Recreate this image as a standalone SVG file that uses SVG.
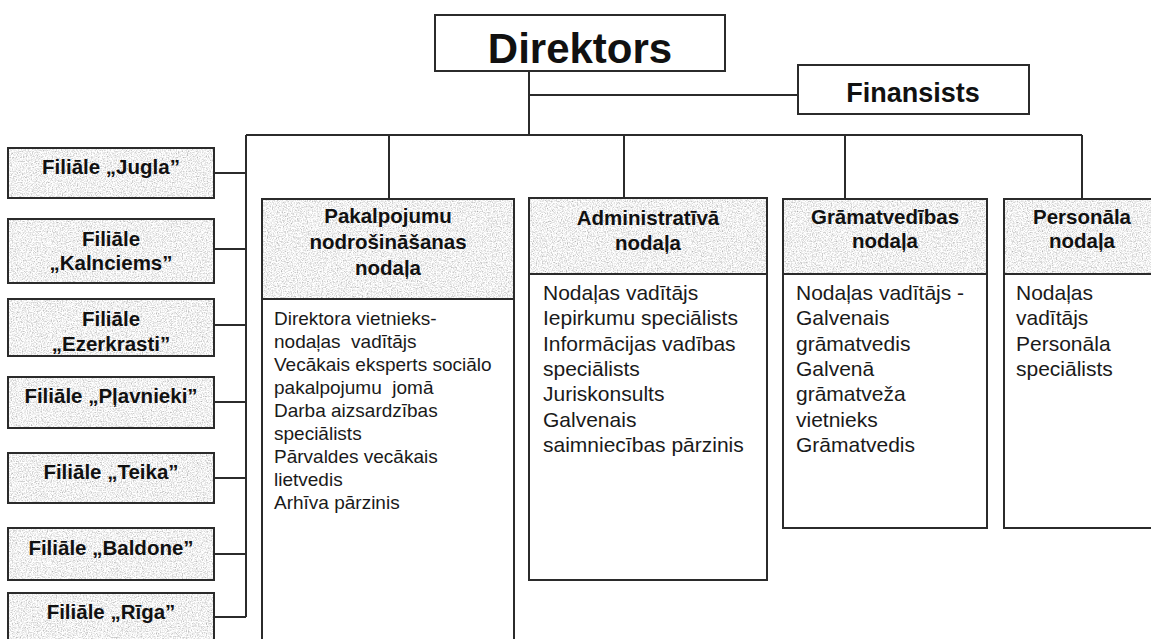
<svg xmlns="http://www.w3.org/2000/svg" width="1151" height="639" viewBox="0 0 1151 639">
<style>
.box{fill:none;stroke:#2b2b2b;stroke-width:2}
.wbox{fill:#ffffff;stroke:#2b2b2b;stroke-width:2}
.tex{fill:#000}
.conn{fill:none;stroke:#2b2b2b;stroke-width:2}
.h{font-family:"Liberation Sans",Arial,sans-serif;font-weight:bold;font-size:20.5px;fill:#111;text-anchor:middle}
.b{font-family:"Liberation Sans",Arial,sans-serif;font-size:21px;fill:#1a1a1a}
.b19{font-family:"Liberation Sans",Arial,sans-serif;font-size:19px;fill:#1a1a1a}
</style>
<defs>
<filter id="granite" x="0" y="0" width="1" height="1">
<feTurbulence type="fractalNoise" baseFrequency="0.8" numOctaves="3" seed="5"/>
<feColorMatrix type="matrix" values="1.1 0 0 0 0.33  1.1 0 0 0 0.33  1.1 0 0 0 0.33  0 0 0 0 1"/>
</filter>
</defs>
<rect x="0" y="0" width="1151" height="639" fill="#ffffff"/>

<g id="connectors">
<path class="conn" d="M529,71 V135 M529,95 H798 M246,135 H1082 M389,135 V199 M624,135 V198 M845,135 V199 M1082,135 V199 M246,135 V617"/>
<path class="conn" d="M214,173 H246 M214,249 H246 M214,325 H246 M214,402 H246 M214,478 H246 M214,554 H246 M214,617 H246"/>
</g>

<g id="direktors">
<rect class="wbox" x="435" y="15" width="290" height="56"/>
<text x="580" y="63" style="font-family:'Liberation Sans',Arial,sans-serif;font-weight:bold;font-size:42px;fill:#111;text-anchor:middle">Direktors</text>
</g>
<g id="finansists">
<rect class="wbox" x="798" y="65" width="231" height="49"/>
<text x="913" y="102" style="font-family:'Liberation Sans',Arial,sans-serif;font-weight:bold;font-size:27px;fill:#111;text-anchor:middle">Finansists</text>
</g>

<g id="filiale-jugla">
<rect class="tex" filter="url(#granite)" x="8" y="148" width="206" height="50"/>
<rect class="box" x="8" y="148" width="206" height="50"/>
<text class="h" x="111" y="174">Filiāle „Jugla”</text>
</g>
<g id="filiale-kalnciems">
<rect class="tex" filter="url(#granite)" x="8" y="219" width="206" height="64"/>
<rect class="box" x="8" y="219" width="206" height="64"/>
<text class="h" x="111" y="246">Filiāle</text>
<text class="h" x="111" y="270">„Kalnciems”</text>
</g>
<g id="filiale-ezerkrasti">
<rect class="tex" filter="url(#granite)" x="8" y="299" width="206" height="57"/>
<rect class="box" x="8" y="299" width="206" height="57"/>
<text class="h" x="111" y="326">Filiāle</text>
<text class="h" x="111" y="351">„Ezerkrasti”</text>
</g>
<g id="filiale-plavnieki">
<rect class="tex" filter="url(#granite)" x="8" y="377" width="206" height="51"/>
<rect class="box" x="8" y="377" width="206" height="51"/>
<text class="h" x="111" y="403">Filiāle „Pļavnieki”</text>
</g>
<g id="filiale-teika">
<rect class="tex" filter="url(#granite)" x="8" y="453" width="206" height="50"/>
<rect class="box" x="8" y="453" width="206" height="50"/>
<text class="h" x="111" y="479">Filiāle „Teika”</text>
</g>
<g id="filiale-baldone">
<rect class="tex" filter="url(#granite)" x="8" y="528" width="206" height="52"/>
<rect class="box" x="8" y="528" width="206" height="52"/>
<text class="h" x="111" y="555">Filiāle „Baldone”</text>
</g>
<g id="filiale-riga">
<rect class="tex" filter="url(#granite)" x="8" y="593" width="206" height="60"/>
<rect class="box" x="8" y="593" width="206" height="60"/>
<text class="h" x="111" y="619">Filiāle „Rīga”</text>
</g>

<g id="pakalpojumu">
<rect class="wbox" x="262" y="199" width="252" height="460"/>
<rect class="tex" filter="url(#granite)" x="262" y="199" width="252" height="100"/>
<rect class="box" x="262" y="199" width="252" height="460"/>
<line class="box" x1="262" y1="299" x2="514" y2="299"/>
<text class="h" x="388" y="223">Pakalpojumu</text>
<text class="h" x="388" y="249">nodrošināšanas</text>
<text class="h" x="388" y="275">nodaļa</text>
<text class="b19" x="274" y="325">Direktora vietnieks-</text>
<text class="b19" x="274" y="348" xml:space="preserve">nodaļas  vadītājs</text>
<text class="b19" x="274" y="371">Vecākais eksperts sociālo</text>
<text class="b19" x="274" y="394" xml:space="preserve">pakalpojumu  jomā</text>
<text class="b19" x="274" y="417">Darba aizsardzības</text>
<text class="b19" x="274" y="440">speciālists</text>
<text class="b19" x="274" y="463">Pārvaldes vecākais</text>
<text class="b19" x="274" y="486">lietvedis</text>
<text class="b19" x="274" y="509">Arhīva pārzinis</text>
</g>

<g id="administrativa">
<rect class="wbox" x="529" y="198" width="238" height="382"/>
<rect class="tex" filter="url(#granite)" x="529" y="198" width="238" height="76"/>
<rect class="box" x="529" y="198" width="238" height="382"/>
<line class="box" x1="529" y1="274" x2="767" y2="274"/>
<text class="h" x="648" y="225">Administratīvā</text>
<text class="h" x="648" y="250">nodaļa</text>
<text class="b" x="543" y="300">Nodaļas vadītājs</text>
<text class="b" x="543" y="325">Iepirkumu speciālists</text>
<text class="b" x="543" y="351">Informācijas vadības</text>
<text class="b" x="543" y="376">speciālists</text>
<text class="b" x="543" y="401">Juriskonsults</text>
<text class="b" x="543" y="427">Galvenais</text>
<text class="b" x="543" y="452">saimniecības pārzinis</text>
</g>

<g id="gramatvedibas">
<rect class="wbox" x="783" y="199" width="204" height="329"/>
<rect class="tex" filter="url(#granite)" x="783" y="199" width="204" height="75"/>
<rect class="box" x="783" y="199" width="204" height="329"/>
<line class="box" x1="783" y1="274" x2="987" y2="274"/>
<text class="h" x="885" y="224">Grāmatvedības</text>
<text class="h" x="885" y="248">nodaļa</text>
<text class="b" x="796" y="300">Nodaļas vadītājs -</text>
<text class="b" x="796" y="325">Galvenais</text>
<text class="b" x="796" y="351">grāmatvedis</text>
<text class="b" x="796" y="376">Galvenā</text>
<text class="b" x="796" y="401">grāmatveža</text>
<text class="b" x="796" y="427">vietnieks</text>
<text class="b" x="796" y="452">Grāmatvedis</text>
</g>

<g id="personala">
<rect class="wbox" x="1004" y="199" width="160" height="329"/>
<rect class="tex" filter="url(#granite)" x="1004" y="199" width="160" height="75"/>
<rect class="box" x="1004" y="199" width="160" height="329"/>
<line class="box" x1="1004" y1="274" x2="1164" y2="274"/>
<text class="h" x="1082" y="224">Personāla</text>
<text class="h" x="1082" y="248">nodaļa</text>
<text class="b" x="1016" y="300">Nodaļas</text>
<text class="b" x="1016" y="325">vadītājs</text>
<text class="b" x="1016" y="351">Personāla</text>
<text class="b" x="1016" y="376">speciālists</text>
</g>
</svg>
